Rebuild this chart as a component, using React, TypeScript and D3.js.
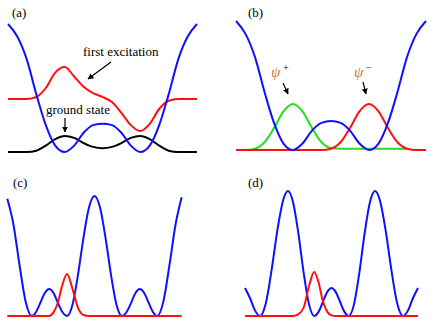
import React from 'react';
import * as d3 from 'd3';

// normalized position across the well, shared by panels (a) and (b)
const gridAB = [-1, -0.9, -0.8, -0.7, -0.6, -0.5, -0.4, -0.3, -0.2, -0.1, 0, 0.1, 0.2, 0.3, 0.4, 0.5, 0.6, 0.7, 0.8, 0.9, 1];

// (a) potential, first excitation, ground state
const potentialA = [1.0, 0.9, 0.72, 0.45, 0.21, 0.05, 0, 0.05, 0.15, 0.21, 0.22, 0.21, 0.15, 0.05, 0, 0.05, 0.21, 0.45, 0.72, 0.9, 1.0];
const excitedA = [0.414, 0.414, 0.414, 0.43, 0.5, 0.62, 0.664, 0.59, 0.51, 0.46, 0.43, 0.39, 0.305, 0.21, 0.164, 0.22, 0.336, 0.4, 0.414, 0.414, 0.414];
const groundA = [0, 0, 0, 0.01, 0.05, 0.1, 0.125, 0.11, 0.07, 0.04, 0.03, 0.04, 0.07, 0.11, 0.125, 0.1, 0.05, 0.01, 0, 0, 0];

// (b) potential, psi+ and psi-
const potentialB = [1.0, 0.9, 0.72, 0.45, 0.21, 0.05, 0, 0.05, 0.15, 0.21, 0.225, 0.21, 0.15, 0.05, 0, 0.05, 0.21, 0.45, 0.72, 0.9, 1.0];
const psiPlusB = [0, 0, 0.01, 0.06, 0.17, 0.3, 0.357, 0.3, 0.17, 0.06, 0.015, 0.01, 0.01, 0.01, 0.01, 0.01, 0.01, 0.01, 0.01, null, null];
const psiMinusB = [0, 0, 0, 0, 0, 0, 0, 0, 0, 0, 0.01, 0.06, 0.17, 0.3, 0.357, 0.3, 0.17, 0.06, 0.01, 0, 0];

// (c)
const gridC = [-1, -0.93, -0.86, -0.79, -0.72, -0.67, -0.62, -0.57, -0.52, -0.47, -0.42, -0.37, -0.315, -0.25, -0.19, -0.13, -0.065, 0,
  0.065, 0.13, 0.19, 0.25, 0.315, 0.37, 0.42, 0.47, 0.52, 0.57, 0.62, 0.67, 0.72, 0.79, 0.86, 0.93, 1];
const potentialC = [0.977, 0.765, 0.425, 0.121, 0, 0.033, 0.112, 0.192, 0.225, 0.192, 0.11, 0.035, 0, 0.1, 0.34, 0.635, 0.9, 1.0,
  0.9, 0.635, 0.34, 0.1, 0, 0.035, 0.11, 0.192, 0.225, 0.192, 0.112, 0.033, 0, 0.121, 0.425, 0.765, 0.99];
const stateC = [0, 0, 0, 0, 0, 0, 0, 0, 0, 0.03, 0.11, 0.255, 0.35, 0.22, 0.07, 0.01, 0, 0,
  0, 0, 0, 0, 0, 0, 0, 0, 0, 0, 0, 0, 0, 0, 0, 0, 0];

// (d)
const gridD = [-1, -0.94, -0.885, -0.827, -0.76, -0.69, -0.62, -0.56, -0.503, -0.445, -0.385, -0.32, -0.26, -0.2, -0.15, -0.1, -0.05, 0,
  0.05, 0.1, 0.15, 0.2, 0.26, 0.32, 0.385, 0.445, 0.503, 0.56, 0.62, 0.69, 0.76, 0.827, 0.885, 0.94, 1];
const potentialD = [0.224, 0.14, 0.045, 0, 0.1, 0.379, 0.711, 0.924, 1.0, 0.912, 0.671, 0.337, 0.093, 0, 0.033, 0.112, 0.191, 0.224,
  0.191, 0.112, 0.033, 0, 0.093, 0.337, 0.671, 0.912, 1.0, 0.924, 0.711, 0.379, 0.1, 0, 0.045, 0.14, 0.224];
const stateD = [0, 0, 0, 0, 0, 0, 0, 0, 0, 0, 0.013, 0.07, 0.24, 0.352, 0.27, 0.12, 0.035, 0.005,
  0, 0, 0, 0, 0, 0, 0, 0, 0, 0, 0, 0, 0, 0, 0, 0, 0];

const BLUE = '#1010ff';
const RED = '#ff1010';
const GREEN = '#20e020';
const serif = { fontFamily: "'Liberation Serif', 'Times New Roman', Times, serif" };

type Series = { values: (number | null)[]; color: string };

const Panel = ({ grid, series, xRange, yRange }: { grid: number[]; series: Series[]; xRange: [number, number]; yRange: [number, number] }) => {
  const x = d3.scaleLinear().domain([-1, 1]).range(xRange);
  const y = d3.scaleLinear().domain([0, 1]).range(yRange);
  return (
    <g>
      {series.map((s, i) => {
        const line = d3.line<number>()
          .defined((_, j) => s.values[j] != null)
          .x((_, j) => x(grid[j]))
          .y((_, j) => y(s.values[j] as number))
          .curve(d3.curveMonotoneX);
        return <path key={i} d={line(grid) || ''} fill="none" stroke={s.color} strokeWidth={2} />;
      })}
    </g>
  );
};

const Label = ({ x, y, size = 13, children, ...rest }: any) => (
  <text x={x} y={y} fontSize={size} style={serif} {...rest}>{children}</text>
);

const Arrow = ({ x1, y1, x2, y2 }: { x1: number; y1: number; x2: number; y2: number }) => (
  <line x1={x1} y1={y1} x2={x2} y2={y2} stroke="#000" strokeWidth={1.2} markerEnd="url(#arrowHead)" />
);

export default function App() {
  return (
    <svg width={436} height={327} style={{ position: 'absolute', left: 0, top: 0, background: '#fff' }}>
      <defs>
        <marker id="arrowHead" viewBox="0 0 10 10" refX="9" refY="5" markerWidth="6" markerHeight="6"
          markerUnits="userSpaceOnUse" orient="auto">
          <path d="M0,0 L10,5 L0,10 z" fill="#000" />
        </marker>
      </defs>

      {/* (a) */}
      <Panel grid={gridAB} xRange={[8, 197]} yRange={[152, 24]}
        series={[
          { values: groundA, color: '#000' },
          { values: excitedA, color: RED },
          { values: potentialA, color: BLUE },
        ]} />
      <Label x={12} y={17}>(a)</Label>
      <Label x={83} y={56}>first excitation</Label>
      <Arrow x1={111} y1={62} x2={88} y2={79} />
      <Label x={46} y={114}>ground state</Label>
      <Arrow x1={65} y1={118} x2={65} y2={132} />

      {/* (b) */}
      <Panel grid={gridAB} xRange={[236, 426]} yRange={[150, 21]}
        series={[
          { values: psiPlusB, color: GREEN },
          { values: psiMinusB, color: RED },
          { values: potentialB, color: BLUE },
        ]} />
      <Label x={248} y={17}>(b)</Label>
      <Label x={271} y={77} size={15} fontStyle="italic" fill="#c0782a">ψ</Label>
      <Label x={283} y={71} size={10}>+</Label>
      <Arrow x1={283} y1={83} x2={288} y2={94} />
      <Label x={354} y={77} size={15} fontStyle="italic" fill="#c0782a">ψ</Label>
      <Label x={366} y={71} size={10}>−</Label>
      <Arrow x1={363} y1={82} x2={366} y2={94} />

      {/* (c) */}
      <Panel grid={gridC} xRange={[7.3, 181.7]} yRange={[316, 196]}
        series={[
          { values: potentialC, color: BLUE },
          { values: stateC, color: RED },
        ]} />
      <Label x={13} y={187}>(c)</Label>

      {/* (d) */}
      <Panel grid={gridD} xRange={[245, 418]} yRange={[316, 191]}
        series={[
          { values: potentialD, color: BLUE },
          { values: stateD, color: RED },
        ]} />
      <Label x={248} y={187}>(d)</Label>
    </svg>
  );
}
